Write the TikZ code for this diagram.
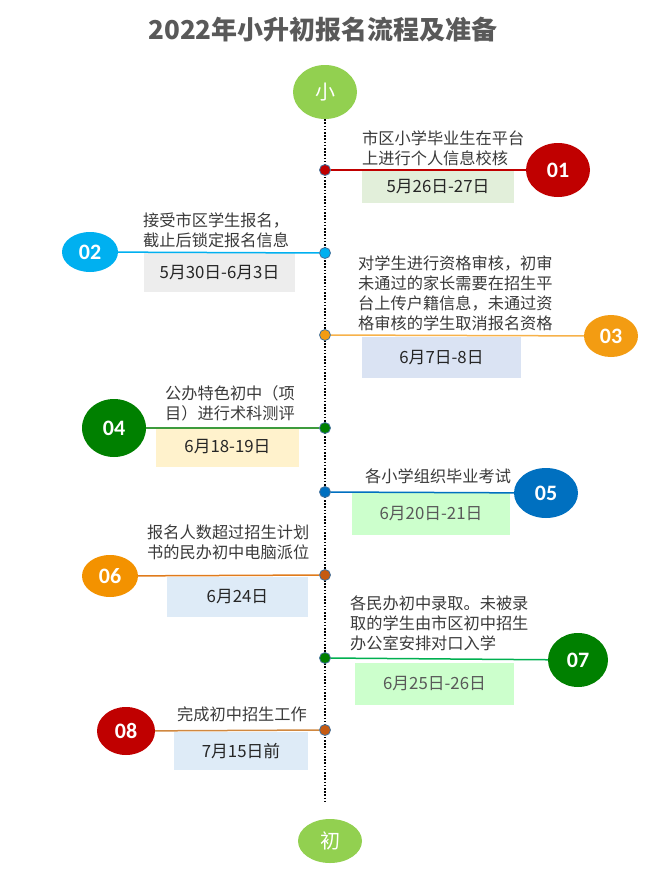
\documentclass[tikz,border=0pt]{standalone}
\usepackage{fontspec}
\setmainfont{Noto Sans CJK SC}
\newfontfamily\numfont{Carlito}
\usetikzlibrary{shapes.geometric}
\definecolor{titlegray}{HTML}{595959}
\definecolor{desctext}{HTML}{3A3A3A}
\definecolor{datetext}{HTML}{262626}
\definecolor{dategray}{HTML}{595959}
\definecolor{lgreen}{HTML}{92D050}
\definecolor{dotedge}{HTML}{41719C}
\definecolor{cRed}{HTML}{C00000}
\definecolor{cSky}{HTML}{00B0F0}
\definecolor{cOrange}{HTML}{F39C12}
\definecolor{cOrangeLine}{HTML}{F7B24A}
\definecolor{cGreen}{HTML}{008000}
\definecolor{cGreenLine}{HTML}{3D9B3D}
\definecolor{cBlue}{HTML}{0070C0}
\definecolor{cOrange6}{HTML}{F39200}
\definecolor{cLine6}{HTML}{E07B1C}
\definecolor{cBrown}{HTML}{C55A11}
\definecolor{cLine7}{HTML}{00B050}
\definecolor{cLine8}{HTML}{D08840}
\definecolor{fA}{HTML}{E2EFDA}
\definecolor{fB}{HTML}{EDEDED}
\definecolor{fC}{HTML}{DAE3F3}
\definecolor{fD}{HTML}{FFF2CC}
\definecolor{fE}{HTML}{CCFFCC}
\definecolor{fF}{HTML}{DEEBF7}
\tikzset{
  endball/.style={ellipse, fill=lgreen, inner sep=0pt, text=white,
    font=\fontsize{20}{22}\selectfont},
  numball/.style={ellipse, inner sep=0pt, text=white,
    font=\numfont\fontsize{22}{24}\selectfont\bfseries},
  tdot/.style={circle, minimum size=11pt, inner sep=0pt, draw=dotedge, line width=0.8pt},
  desc/.style={anchor=north west, inner sep=0pt, align=left, text=desctext,
    font=\fontsize{16.2}{20}\selectfont},
  datebox/.style={rectangle, inner sep=0pt, text=datetext,
    font=\fontsize{16.8}{18}\selectfont},
  link/.style={line width=1.5pt},
  spine/.style={line width=1.8pt, dash pattern=on 1.6pt off 1.6pt, black}
}
\begin{document}
\begin{tikzpicture}[x=1pt, y=-1pt]
\useasboundingbox (0,0) rectangle (651,870);
\fill[white] (0,0) rectangle (651,870);

% title
\node[text=titlegray, font=\fontsize{26}{30}\selectfont\bfseries] (title) at (323,30) {2022年小升初报名流程及准备};

% spine ends
\node[endball, minimum width=64pt, minimum height=54pt] (top) at (325,92) {小};
\node[endball, minimum width=64pt, minimum height=44pt] (bot) at (330,841) {初};
\coordinate (vend) at (325,802);
\draw[spine] (top.south) -- (vend);

% date boxes
\node[datebox, fill=fA, minimum width=152pt, minimum height=33pt] (b1) at (438,186.5) {5月26日-27日};
\node[datebox, fill=fB, minimum width=151pt, minimum height=39pt] (b2) at (219.5,272.5) {5月30日-6月3日};
\node[datebox, fill=fC, minimum width=159pt, minimum height=41pt] (b3) at (441.5,357.5) {6月7日-8日};
\node[datebox, fill=fD, minimum width=143pt, minimum height=40pt] (b4) at (227.5,447) {6月18-19日};
\node[datebox, fill=fE, minimum width=158pt, minimum height=43pt, text=dategray] (b5) at (431,513.5) {6月20日-21日};
\node[datebox, fill=fF, minimum width=141pt, minimum height=40pt] (b6) at (237.5,597) {6月24日};
\node[datebox, fill=fE, minimum width=159pt, minimum height=42pt, text=dategray] (b7) at (434.5,684) {6月25日-26日};
\node[datebox, fill=fF, minimum width=134pt, minimum height=38pt] (b8) at (241,751) {7月15日前};

% descriptions
\node[desc] (t1) at (362,131) {市区小学毕业生在平台\\上进行个人信息校核};
\node[desc] (t2) at (143,213) {接受市区学生报名，\\截止后锁定报名信息};
\node[desc] (t3) at (358,256) {对学生进行资格审核，初审\\未通过的家长需要在招生平\\台上传户籍信息，未通过资\\格审核的学生取消报名资格};
\node[desc] (t4) at (165,385) {公办特色初中（项\\目）进行术科测评};
\node[desc] (t5) at (365,469) {各小学组织毕业考试};
\node[desc] (t6) at (147,525) {报名人数超过招生计划\\书的民办初中电脑派位};
\node[desc] (t7) at (350,596) {各民办初中录取。未被录\\取的学生由市区初中招生\\办公室安排对口入学};
\node[desc] (t8) at (177,707) {完成初中招生工作};

% number balls
\node[numball, fill=cRed, minimum width=64pt, minimum height=54pt] (n1) at (558,170) {01};
\node[numball, fill=cSky, minimum width=56pt, minimum height=40pt] (n2) at (90,252) {02};
\node[numball, fill=cOrange, minimum width=54pt, minimum height=42pt] (n3) at (611,336) {03};
\node[numball, fill=cGreen, minimum width=64pt, minimum height=58pt] (n4) at (114,428) {04};
\node[numball, fill=cBlue, minimum width=64pt, minimum height=50pt] (n5) at (546,493) {05};
\node[numball, fill=cOrange6, minimum width=56pt, minimum height=42pt] (n6) at (110,576) {06};
\node[numball, fill=cGreen, minimum width=60pt, minimum height=54pt] (n7) at (578,660) {07};
\node[numball, fill=cRed, minimum width=58pt, minimum height=48pt] (n8) at (126,731) {08};

% timeline dots
\node[tdot, fill=cRed] (d1) at (325,170) {};
\node[tdot, fill=cSky] (d2) at (325,253) {};
\node[tdot, fill=cOrange] (d3) at (325,335) {};
\node[tdot, fill=cGreen] (d4) at (325,428) {};
\node[tdot, fill=cBlue] (d5) at (325,492) {};
\node[tdot, fill=cBrown] (d6) at (325,575) {};
\node[tdot, fill=cGreen] (d7) at (325,658) {};
\node[tdot, fill=cBrown] (d8) at (325,730) {};

% connectors
\draw[link, cRed] (d1) -- (n1);
\draw[link, cSky] (d2) -- (n2);
\draw[link, cOrangeLine] (d3) -- (n3);
\draw[link, cGreenLine] (d4) -- (n4);
\draw[link, cBlue] (d5) -- (n5);
\draw[link, cLine6] (d6) -- (n6);
\draw[link, cLine7] (d7) -- (n7);
\draw[link, cLine8] (d8) -- (n8);
\end{tikzpicture}
\end{document}
